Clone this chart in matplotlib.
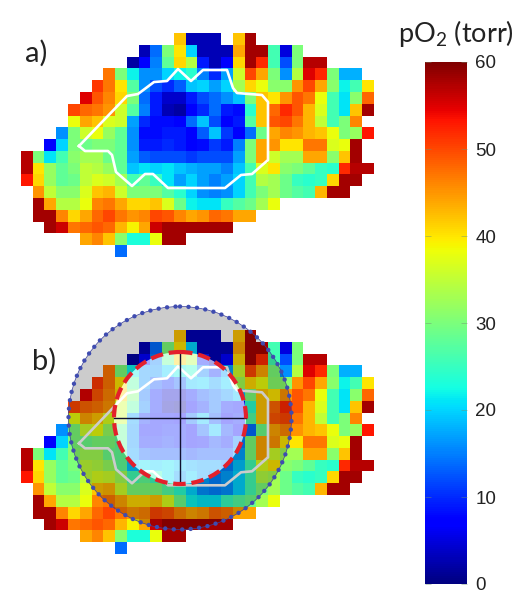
#encoding=utf-8
import numpy as np
import matplotlib
matplotlib.use('Agg')
import matplotlib.pyplot as plt
from matplotlib.patches import Circle, Wedge

plt.rcParams['font.family'] = ['Lato', 'DejaVu Sans']
plt.rcParams['mathtext.fontset'] = 'custom'
plt.rcParams['mathtext.rm'] = 'Lato'
plt.rcParams['mathtext.default'] = 'rm'

N = np.nan

# first column of every map row, then its pO2 values
row_start = [13, 10, 9, 7, 6, 5, 4, 4, 3, 2, 0, 0, 0, 1, 1, 1, 2, 5, 8]
row_values = [
    [42, 3, 3, 3, N, 42, 58],
    [3, 14, 30, 40, 20, 3, 3, 3, 44, 58, 58, 26, 5, 30],
    [2, 7, 15, 28, 41, 34, 9, 3, 7, 41, 58, 52, 26, 12, 30, 57, 57],
    [47, 30, 22, 16, 16, 20, 22, 24, 15, 10, 17, 36, 50, 44, 30, 16, 34, 55, 52, 30, 18, 18],
    [51, 47, 40, 27, 16, 12, 10, 13, 19, 20, 17, 20, 33, 41, 38, 31, 31, 45, 50, 44, 31, 22, 26, 40],
    [55, 49, 46, 41, 30, 14, 9, 4, 4, 9, 12, 14, 16, 19, 30, 42, 40, 45, 49, 47, 38, 26, 21, 31, 48],
    [50, 48, 47, 45, 36, 27, 15, 9, 3, 2, 7, 10, 14, 9, 8, 24, 42, 48, 52, 49, 43, 37, 26, 21, 42, 58],
    [38, 44, 42, 37, 36, 17, 10, 8, 8, 7, 14, 19, 12, 7, 9, 27, 42, 49, 50, 47, 43, 35, 26, 30, 46],
    [16, 30, 36, 38, 32, 28, 16, 8, 8, 9, 9, 7, 13, 19, 11, 7, 14, 29, 44, 46, 45, 43, 42, 38, 30, 32, 53],
    [7, 20, 30, 29, 30, 30, 28, 16, 9, 9, 10, 9, 7, 8, 11, 9, 15, 30, 44, 45, 40, 40, 47, 47, 37, 38, 58],
    [57, 30, 21, 26, 31, 33, 33, 29, 28, 17, 13, 12, 12, 12, 11, 12, 12, 12, 17, 30, 44, 36, 33, 33, 44, 44, 31, 42, 58],
    [57, 40, 32, 28, 30, 35, 34, 32, 28, 19, 21, 20, 21, 19, 18, 17, 17, 15, 19, 26, 37, 40, 31, 30, 28, 25, 24, 52, 57, 57],
    [53, 41, 32, 28, 29, 35, 37, 36, 33, 26, 28, 25, 21, 17, 20, 17, 15, 17, 20, 26, 34, 33, 29, 25, 24, 25, 41, 58, 58],
    [45, 35, 31, 31, 37, 42, 43, 36, 30, 30, 30, 27, 24, 20, 16, 15, 16, 20, 26, 30, 33, 29, 27, 26, 43, 58, 58],
    [58, 44, 34, 34, 38, 46, 47, 44, 41, 41, 42, 37, 29, 22, 21, 21, 25, 27, 29, 33, 38],
    [58, 58, 46, 41, 44, 48, 50, 47, 45, 46, 50, 49, 46, 44, 45, 48, 47, 44, 44],
    [58, 56, 47, 48, 49, 48, 43, 39, 44, 56, 58, 58, 58, 58, 58, 58],
    [44, 46, 42, 31, 23, 23, 38, 58, 58],
    [14],
]

cbar_ticks = [0, 10, 20, 30, 40, 50, 60]

# hypoxic region outline, picture pixels of panel a
roi_x = [79, 127, 138, 154, 167, 178, 191, 203, 227, 233, 237, 262, 268, 268, 252, 241, 225, 168, 153, 145, 132, 116, 112, 108, 85, 79]
roi_y = [146, 96, 94, 82, 81, 69, 81, 70, 70, 88, 93, 95, 102, 160, 174, 175, 188, 188, 174, 174, 186, 172, 155, 151, 151, 146]

po2 = np.full((19, 30), np.nan)
for r in range(len(row_values)):
    vals = row_values[r]
    po2[r, row_start[r]:row_start[r] + len(vals)] = vals

fig = plt.figure(figsize=(5.23, 6), dpi=100)
ax = fig.add_axes([0, 0, 1, 1])
ax.axis('off')

cell = 11.75
left = 20.7
top_a = 33.3
top_b = top_a + 297.3
grid_w = 30 * cell
grid_h = 19 * cell

im = ax.imshow(po2, cmap='jet', vmin=0, vmax=60, aspect='auto', interpolation='nearest',
               extent=[left, left + grid_w, top_a + grid_h, top_a], zorder=1)
ax.imshow(po2, cmap='jet', vmin=0, vmax=60, aspect='auto', interpolation='nearest',
          extent=[left, left + grid_w, top_b + grid_h, top_b], zorder=1)

ax.plot(roi_x, roi_y, color='white', lw=1.9, zorder=2)
ax.plot(roi_x, np.array(roi_y) + 297.3, color='white', lw=1.9, zorder=2)

# panel b circles
cx, cy = 180, 418
r_out = 111.5
r_in = 66
ax.add_patch(Wedge((cx, cy), r_out, 0, 360, width=r_out - r_in, facecolor='black',
                   alpha=0.2, edgecolor='none', zorder=3))
ax.add_patch(Circle((cx, cy), r_in, facecolor='white', alpha=0.65, edgecolor='none', zorder=3))
ax.add_patch(Circle((cx, cy), r_out, fill=False, edgecolor='#3a3f9c', lw=0.5, zorder=4))
ax.add_patch(Circle((cx, cy), r_out, fill=False, edgecolor='#3f4cb0', lw=3.2,
                    linestyle=(0, (0.01, 1.9)), capstyle='round', zorder=4))
ax.add_patch(Circle((cx, cy), r_in, fill=False, edgecolor='#e3202c', lw=3.0,
                    linestyle=(0, (3.0, 1.4)), zorder=5))
ax.plot([cx, cx], [cy - r_in, cy + r_in], color='#101030', lw=1.0, zorder=4)
ax.plot([cx - r_in, cx + r_in], [cy, cy], color='#101030', lw=1.0, zorder=4)

ax.text(25, 62, 'a)', fontsize=21, color='#222222', zorder=6)
ax.text(32, 370, 'b)', fontsize=21, color='#222222', zorder=6)
ax.text(456, 42, r'pO$_2$ (torr)', fontsize=19.5, color='#222222', ha='center', zorder=6)

ax.set_xlim(0, 523)
ax.set_ylim(600, 0)

cax = fig.add_axes([425 / 523, 1 - 584 / 600, 42 / 523, 522 / 600])
cb = fig.colorbar(im, cax=cax, ticks=cbar_ticks)
cb.outline.set_visible(False)
cb.ax.tick_params(direction='in', left=True, right=True, length=4, width=0.6, color='#70907080',
                  pad=6, labelsize=13.5, labelcolor='#222222')
for t in cb.ax.get_yticklabels():
    t.set_fontfamily(['Liberation Sans', 'DejaVu Sans'])

fig.savefig('out.png', dpi=100)
